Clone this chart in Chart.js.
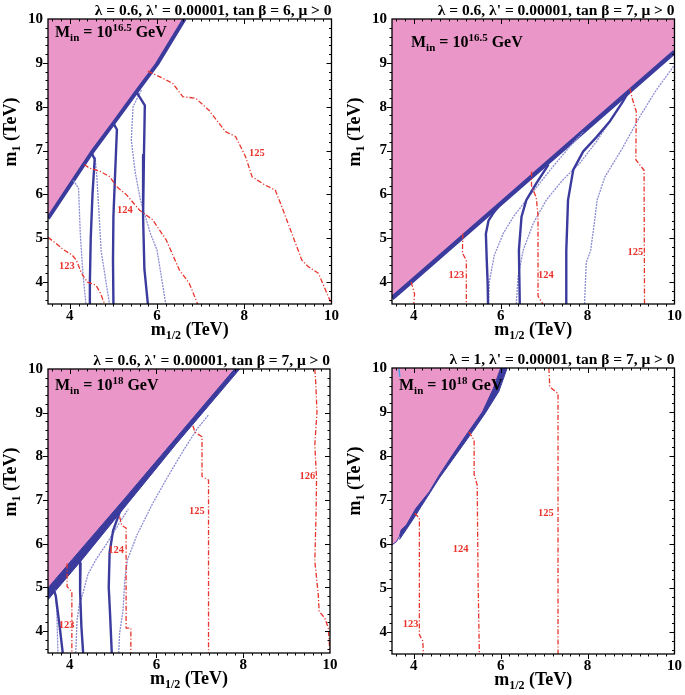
<!DOCTYPE html>
<html><head><meta charset="utf-8">
<script src="https://cdn.jsdelivr.net/npm/chart.js@4.4.0/dist/chart.umd.min.js"></script>
<style>
html,body{margin:0;padding:0;background:#fff;}
#wrap{position:relative;width:685px;height:695px;overflow:hidden;background:#fff;}
canvas{position:absolute;}
</style></head><body>
<div id="wrap">
<canvas id="c1" width="342" height="345" style="left:0px;top:0px;width:342px;height:345px"></canvas>
<canvas id="c2" width="343" height="345" style="left:342px;top:0px;width:343px;height:345px"></canvas>
<canvas id="c3" width="342" height="350" style="left:0px;top:345px;width:342px;height:350px"></canvas>
<canvas id="c4" width="343" height="350" style="left:342px;top:345px;width:343px;height:350px"></canvas>
</div>
<script>
// ---------- axis ticks ----------
const xTicks = [4, 6, 8, 10];
const yTicks = [4, 5, 6, 7, 8, 9, 10];

// ---------- panel titles ----------
const titles = [
  "λ = 0.6, λ' = 0.00001, tan β = 6, μ > 0",
  "λ = 0.6, λ' = 0.00001, tan β = 7, μ > 0",
  "λ = 0.6, λ' = 0.00001, tan β = 7, μ > 0",
  "λ = 1, λ' = 0.00001, tan β = 7, μ > 0"
];
const minExponents = ['16.5', '16.5', '18', '18'];

// ---------- panel 1 ----------
const p1Excl = [[3.5,5.45],[4.0,6.2],[4.5,6.95],[5.0,7.62],[5.5,8.3],[6.0,8.97],[6.63,10]];
const p1B1 = [[4.5,6.95],[4.57,6.8],[4.52,6.0],[4.48,5.0],[4.46,4.0],[4.46,3.5]];
const p1B2 = [[5.0,7.62],[5.08,7.48],[5.04,6.5],[5.0,5.5],[4.99,4.5],[5.0,3.5]];
const p1B3 = [[5.53,8.33],[5.72,8.03],[5.7,6.9],[5.68,5.5],[5.71,4.3],[5.79,3.5]];
const p1T1 = [[4.08,6.32],[4.2,6.14],[4.24,5.11],[4.3,4.2],[4.37,3.5]];
const p1T2 = [[4.58,6.85],[4.62,6.4],[4.65,5.9],[4.72,4.7],[4.91,3.5]];
const p1T3 = [[5.64,8.38],[5.45,8.0],[5.41,7.24],[5.5,6.5],[5.62,5.87],[5.85,5.1],[6.0,4.73],[6.2,3.5]];
const p1R123 = [[3.5,5.02],[3.7,4.87],[3.85,4.74],[4.05,4.62],[4.15,4.5],[4.27,4.2],[4.4,4.0],[4.6,3.93],[4.7,3.75],[4.8,3.5]];
const p1R124 = [[4.33,6.68],[4.45,6.6],[4.69,6.53],[4.92,6.4],[5.07,6.18],[5.3,5.99],[5.6,5.64],[5.9,5.42],[6.21,4.96],[6.51,4.28],[6.74,3.97],[6.93,3.5]];
const p1R125 = [[5.79,8.81],[6.13,8.65],[6.36,8.53],[6.59,8.23],[6.89,8.19],[7.19,7.92],[7.57,7.43],[7.8,7.32],[8.03,6.86],[8.18,6.4],[8.48,6.21],[8.71,6.1],[8.86,5.72],[9.09,5.11],[9.32,4.5],[9.47,4.35],[9.7,4.2],[10.0,3.5]];
const p1Labels = [['123',3.93,4.37],['124',5.26,5.63],['125',8.29,6.94]];

// ---------- panel 2 ----------
const p2Excl = [[3.5,3.63],[4.0,4.06],[6.0,5.79],[8.0,7.52],[10,9.25]];
const p2B1 = [[6.0,5.78],[5.85,5.6],[5.72,5.4],[5.66,5.1],[5.68,4.5],[5.7,4.0],[5.71,3.5]];
const p2B2 = [[7.1,6.68],[6.82,6.25],[6.59,5.87],[6.48,5.49],[6.42,4.73],[6.44,3.5]];
const p2B3 = [[8.95,8.35],[8.8,8.1],[8.5,7.65],[8.2,7.3],[7.9,6.98],[7.67,6.56],[7.55,5.87],[7.51,4.7],[7.51,3.5]];
const p2T1 = [[5.72,3.5],[5.74,4.0],[5.85,4.6],[6.06,5.11],[6.3,5.5],[6.59,5.87],[7.2,6.63],[7.6,7.1],[7.9,7.42]];
const p2T2 = [[6.36,3.5],[6.4,4.12],[6.52,4.73],[6.75,5.34],[7.05,5.87],[7.43,6.33],[7.82,6.71],[8.2,7.2],[8.6,7.8]];
const p2T3 = [[7.93,3.5],[7.97,4.45],[8.07,4.72],[8.15,5.3],[8.22,5.87],[8.4,6.4],[8.8,7.05],[9.2,7.77],[9.58,8.38],[10,8.95]];
const p2R123a = [[3.94,4.0],[4.02,3.73],[4.0,3.5]];
const p2R123b = [[5.13,5.1],[5.12,4.66],[5.21,4.5],[5.21,3.5]];
const p2R124 = [[6.71,6.52],[6.71,6.2],[6.82,5.92],[6.86,5.5],[6.86,3.68],[6.97,3.5]];
const p2R125 = [[8.97,8.42],[9.03,8.18],[9.12,7.89],[9.11,6.79],[9.3,6.55],[9.31,3.5]];
const p2Labels = [['123',4.98,4.16],['124',7.04,4.16],['125',9.1,4.67]];

// ---------- panel 3 ----------
const p3Excl = [[3.5,4.99],[4.05,5.63],[5.28,7.05],[6.39,8.35],[7.8,10]];
const p3Band = [[3.5,4.72],[4.28,5.63],[5.36,6.95],[6.45,8.28],[7.92,10]];
const p3B1 = [[3.62,5.0],[3.68,4.8],[3.7,4.64],[3.77,4.1],[3.84,3.5]];
const p3B2 = [[4.2,5.75],[4.25,5.55],[4.24,4.9],[4.27,4.1],[4.31,3.5]];
const p3B3 = [[5.2,6.85],[5.0,6.3],[4.92,5.8],[4.9,5.0],[4.93,4.4],[4.97,3.5]];
const p3T1 = [[3.66,4.95],[3.7,4.5],[3.73,3.5]];
const p3T2 = [[4.14,3.5],[4.17,4.25],[4.22,4.6],[4.3,4.85],[4.42,5.3],[4.6,5.63],[4.85,6.0],[5.1,6.4],[5.35,6.8]];
const p3T3 = [[5.13,3.5],[5.15,3.95],[5.23,4.48],[5.27,5.17],[5.33,5.63],[5.55,6.2],[5.9,6.9],[6.24,7.5],[6.6,8.1],[6.93,8.62],[7.2,8.95]];
const p3R123 = [[3.94,5.55],[3.94,5.02],[4.05,4.9],[4.05,3.5]];
const p3R124 = [[5.15,6.62],[5.2,6.42],[5.3,6.36],[5.3,4.07],[5.41,4.07],[5.41,3.5]];
const p3R125 = [[6.84,8.7],[6.89,8.55],[7.05,8.45],[7.05,7.54],[7.2,7.46],[7.2,3.5]];
const p3R126 = [[9.65,10],[9.67,9.71],[9.7,9.02],[9.65,8.26],[9.69,7.5],[9.68,6.74],[9.65,5.6],[9.73,4.83],[9.75,4.45],[9.88,4.3],[9.96,4.07],[10,3.5]];
const p3Labels = [['123',3.93,4.14],['124',5.07,5.86],['125',6.93,6.74],['126',9.48,7.54]];

// ---------- panel 4 ----------
const p4Excl = [[3.5,5.98],[3.6,6.05],[3.67,6.17],[3.71,6.32],[3.83,6.43],[4.05,6.81],[4.36,7.19],[4.59,7.57],[4.89,8.02],[5.2,8.47],[5.58,9.0],[5.83,9.53],[6.0,10]];
const p4Band = [[3.67,6.1],[3.83,6.33],[4.05,6.66],[4.17,6.85],[4.59,7.5],[5.04,8.12],[5.35,8.55],[5.65,8.98],[5.96,9.47],[6.15,10]];
const p4Cyan = [[3.66,9.98],[3.68,9.8]];
const p4R123 = [[4.02,6.7],[4.13,6.59],[4.13,3.94],[4.21,3.79],[4.22,3.5]];
const p4R124 = [[5.27,8.55],[5.39,8.36],[5.39,7.57],[5.46,7.34],[5.48,5.22],[5.51,3.5]];
const p4R125 = [[7.11,10],[7.13,9.57],[7.32,9.42],[7.32,3.5]];
const p4Labels = [['123',3.93,4.17],['124',5.08,5.89],['125',7.04,6.7]];

// ---------- styles ----------
const SERIF = "'Liberation Serif','Times New Roman','DejaVu Serif',serif";
const PINK = '#ea96c8';
const NAVY = '#3b3b9e';
const LIGHT = '#8c8cd2';
const RED = '#e8352d';
const CYAN = '#4aa3e6';

function pts(a){ return a.map(p => ({x:p[0], y:p[1]})); }
function ds(a, color, width, dash, order, extra){
  return Object.assign({data: pts(a), borderColor: color, backgroundColor: color, borderWidth: width,
    borderDash: dash || [], pointRadius: 0, pointHoverRadius: 0, tension: 0, fill: false, order: order,
    borderCapStyle: 'butt', borderJoinStyle: 'round'}, extra || {});
}

function drawRich(ctx, parts, x, y, align){
  let total = 0;
  parts.forEach(p => { ctx.font = 'bold ' + p[1] + 'px ' + SERIF; total += ctx.measureText(p[0]).width; });
  let cx = align === 'center' ? x - total/2 : (align === 'right' ? x - total : x);
  ctx.textAlign = 'left'; ctx.textBaseline = 'alphabetic';
  parts.forEach(p => {
    ctx.font = 'bold ' + p[1] + 'px ' + SERIF;
    ctx.fillText(p[0], cx, y + p[2]);
    cx += ctx.measureText(p[0]).width;
  });
}

function decorPlugin(cfg){
  return {
    id: 'decor' + cfg.idx,
    afterDatasetsDraw(chart){
      const ctx = chart.ctx, xs = chart.scales.x, ys = chart.scales.y, a = chart.chartArea;
      ctx.save();
      ctx.fillStyle = RED; ctx.font = 'bold 10.5px ' + SERIF; ctx.textAlign = 'center'; ctx.textBaseline = 'middle';
      cfg.labels.forEach(l => ctx.fillText(l[0], xs.getPixelForValue(l[1]), ys.getPixelForValue(l[2])));
      ctx.fillStyle = '#000';
      drawRich(ctx, [['M',16,0],['in',11,4],[' = 10',16,0],[minExponents[cfg.idx],11,-6],[' GeV',16,0]],
        a.left + cfg.mpos[0], a.top + cfg.mpos[1], 'left');
      ctx.restore();
    },
    afterDraw(chart){
      const ctx = chart.ctx, xs = chart.scales.x, ys = chart.scales.y, a = chart.chartArea;
      ctx.save();
      ctx.strokeStyle = '#000'; ctx.lineWidth = 1;
      for (let k = 18; k <= 49; k++){
        const v = k / 5;
        if (v <= 3.5 || v >= 10) continue;
        const xMajor = (k % 10 === 0);
        const yMajor = (k % 5 === 0);
        const px = Math.round(xs.getPixelForValue(v)) + 0.5;
        const py = Math.round(ys.getPixelForValue(v)) + 0.5;
        const lx = xMajor ? 5 : 2.5, ly = yMajor ? 5 : 2.5;
        ctx.beginPath();
        ctx.moveTo(px, a.bottom); ctx.lineTo(px, a.bottom + lx);
        ctx.moveTo(px, a.top); ctx.lineTo(px, a.top + lx);
        ctx.moveTo(a.left, py); ctx.lineTo(a.left - ly, py);
        ctx.moveTo(a.right, py); ctx.lineTo(a.right - ly, py);
        ctx.stroke();
      }
      ctx.lineWidth = 1.3;
      ctx.strokeRect(a.left, a.top, a.right - a.left, a.bottom - a.top);
      ctx.fillStyle = '#000';
      ctx.font = 'bold 15.5px ' + SERIF; ctx.textAlign = 'right'; ctx.textBaseline = 'alphabetic';
      ctx.fillText(titles[cfg.idx], a.right, a.top - 4);
      drawRich(ctx, [['m',18,0],['1/2',12,4],[' (TeV)',18,0]], (a.left + a.right)/2, a.bottom + 31, 'center');
      ctx.translate(a.left - 32, a.top + 113);
      ctx.rotate(-Math.PI/2);
      drawRich(ctx, [['m',18,0],['1',12,4],[' (TeV)',18,0]], 0, 0, 'center');
      ctx.restore();
    }
  };
}

function makePanel(cfg){
  const datasets = [];
  if (cfg.band) datasets.push(ds(cfg.band, NAVY, 1, [], 20, {fill: 'end'}));
  datasets.push(ds(cfg.excl, NAVY, cfg.exclW, [], 19, {fill: 'end', backgroundColor: PINK}));
  cfg.thin.forEach(t => datasets.push(ds(t, LIGHT, 1.3, [2,1], 10)));
  cfg.thick.forEach(t => datasets.push(ds(t, NAVY, 2.4, [], 8)));
  (cfg.cyan || []).forEach(t => datasets.push(ds(t, CYAN, 1.5, [], 7)));
  cfg.red.forEach(t => datasets.push(ds(t, RED, 1.3, [5,2,1.2,2], 2)));
  const tickFont = {family: SERIF, weight: 'bold', size: 15};
  new Chart(document.getElementById(cfg.id), {
    type: 'line',
    data: {datasets},
    options: {
      responsive: false, animation: false, devicePixelRatio: 1,
      layout: {autoPadding: false, padding: {left: 0, top: cfg.pad[0], right: cfg.pad[1], bottom: 0}},
      plugins: {legend: {display: false}, tooltip: {enabled: false}},
      events: [],
      scales: {
        x: {type: 'linear', min: 3.5, max: 10, offset: false,
            grid: {display: false, drawTicks: false}, border: {display: false},
            afterBuildTicks: s => { s.ticks = xTicks.map(v => ({value: v})); },
            afterFit: s => { s.height = cfg.xH; },
            ticks: {font: tickFont, color: '#000', padding: 3, maxRotation: 0, autoSkip: false}},
        y: {type: 'linear', min: 3.5, max: 10,
            grid: {display: false, drawTicks: false}, border: {display: false},
            afterBuildTicks: s => { s.ticks = yTicks.map(v => ({value: v})); },
            afterFit: s => { s.width = cfg.yW; },
            ticks: {font: tickFont, color: '#000', padding: 5, autoSkip: false}}
      }
    },
    plugins: [decorPlugin(cfg)]
  });
}

makePanel({idx:0, id:'c1', yW:48, xH:41, pad:[19,9], mpos:[7,18], excl:p1Excl, exclW:4, band:null,
  thick:[p1B1,p1B2,p1B3], thin:[p1T1,p1T2,p1T3], red:[p1R123,p1R124,p1R125], labels:p1Labels});
makePanel({idx:1, id:'c2', yW:50, xH:41, pad:[19,10], mpos:[19,28], excl:p2Excl, exclW:4.5, band:null,
  thick:[p2B1,p2B2,p2B3], thin:[p2T1,p2T2,p2T3], red:[p2R123a,p2R123b,p2R124,p2R125], labels:p2Labels});
makePanel({idx:2, id:'c3', yW:48, xH:42, pad:[24,12], mpos:[7,21], excl:p3Excl, exclW:1, band:p3Band,
  thick:[p3B1,p3B2,p3B3], thin:[p3T1,p3T2,p3T3], red:[p3R123,p3R124,p3R125,p3R126], labels:p3Labels});
makePanel({idx:3, id:'c4', yW:50, xH:41, pad:[23,8], mpos:[7,22], excl:p4Excl, exclW:1, band:p4Band,
  thick:[], thin:[], cyan:[p4Cyan], red:[p4R123,p4R124,p4R125], labels:p4Labels});
</script>
</body></html>
